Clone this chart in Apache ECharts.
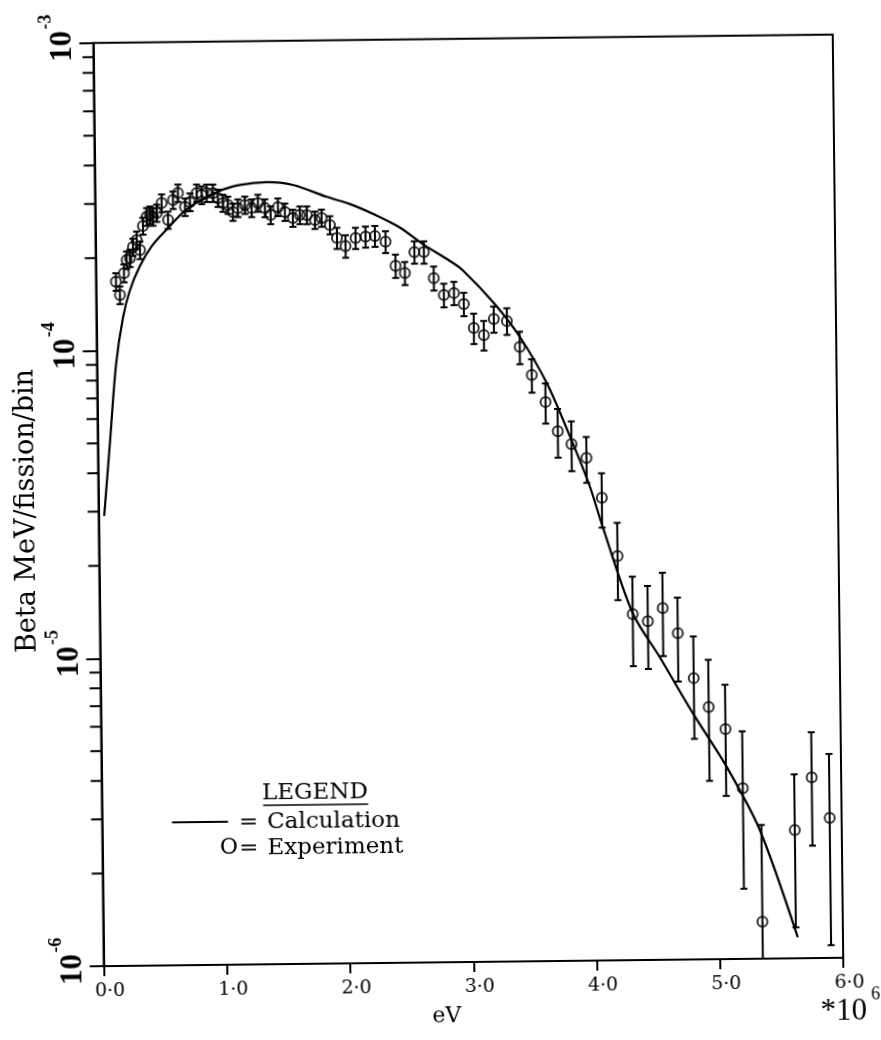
<!DOCTYPE html>
<html>
<head>
<meta charset="utf-8">
<script src="https://cdn.jsdelivr.net/npm/echarts/dist/echarts.min.js"></script>
<style>
html,body{margin:0;padding:0;background:#fff;overflow:hidden;}
#chart{width:881px;height:1040px;transform:rotate(-0.65deg);transform-origin:467.5px 500.5px;}
</style>
</head>
<body>
<div id="chart"></div>
<script>
// ---- data (energy in MeV, i.e. x 10^6 eV) ----
const xTicks = [0, 1, 2, 3, 4, 5, 6];
const yDecades = [1e-6, 1e-5, 1e-4, 1e-3];
const yMinorTicks = [2e-6,3e-6,4e-6,5e-6,6e-6,7e-6,8e-6,9e-6,
                     2e-5,3e-5,4e-5,5e-5,6e-5,7e-5,8e-5,9e-5,
                     2e-4,3e-4,4e-4,5e-4,6e-4,7e-4,8e-4,9e-4];

// Calculation (solid curve)
const calcX = [0.045, 0.10, 0.155, 0.216, 0.275, 0.358, 0.457, 0.581, 0.745, 0.989, 1.177, 1.396, 1.607, 1.881, 2.07, 2.27, 2.47, 2.655, 2.873, 2.977, 3.234, 3.434, 3.648, 3.846, 3.988, 4.089, 4.324, 4.539, 4.802, 5.073, 5.335, 5.633];
const calcY = [2.9e-5, 5.1e-5, 9.0e-5, 1.28e-4, 1.57e-4, 1.878e-4, 2.18e-4, 2.47e-4, 2.866e-4, 3.245e-4, 3.415e-4, 3.48e-4, 3.40e-4, 3.10e-4, 2.93e-4, 2.70e-4, 2.45e-4, 2.16e-4, 1.90e-4, 1.77e-4, 1.37e-4, 1.07e-4, 7.55e-5, 4.89e-5, 3.47e-5, 2.56e-5, 1.342e-5, 9.63e-6, 6.32e-6, 4.21e-6, 2.62e-6, 1.17e-6];

// Experiment (circles with error bars)
const expX = [0.162,0.193,0.228,0.251,0.278,0.303,0.334,0.360,0.386,0.417,
              0.444,0.468,0.499,0.540,0.590,0.632,0.673,0.729,0.770,0.825,
              0.865,0.906,0.957,0.997,1.037,1.077,1.117,1.158,1.215,1.269,
              1.321,1.377,1.423,1.483,1.539,1.603,1.660,1.717,1.782,1.836,
              1.903,1.959,2.028,2.110,2.191,2.267,2.353,2.432,2.507,2.586,
              2.663,2.741,2.821,2.903,2.982,3.061,3.142,3.224,3.330,3.432,
              3.527,3.636,3.733,3.843,3.963,4.084,4.206,4.324,4.446,4.568,
              4.688,4.813,4.932,5.066,5.201,5.348,5.619,5.761,5.903];
const expY = [1.673e-4,1.514e-4,1.784e-4,1.967e-4,1.995e-4,2.166e-4,2.282e-4,2.117e-4,2.533e-4,2.715e-4,
              2.75e-4,2.714e-4,2.788e-4,3.003e-4,2.644e-4,3.068e-4,3.232e-4,2.909e-4,3.018e-4,3.227e-4,
              3.177e-4,3.224e-4,3.222e-4,3.102e-4,2.987e-4,2.942e-4,2.792e-4,2.875e-4,2.938e-4,2.871e-4,
              2.978e-4,2.868e-4,2.72e-4,2.886e-4,2.779e-4,2.655e-4,2.714e-4,2.712e-4,2.611e-4,2.649e-4,
              2.512e-4,2.278e-4,2.143e-4,2.274e-4,2.294e-4,2.304e-4,2.206e-4,1.841e-4,1.742e-4,2.037e-4,
              2.035e-4,1.674e-4,1.473e-4,1.494e-4,1.375e-4,1.148e-4,1.089e-4,1.226e-4,1.207e-4,9.92e-5,
              8.04e-5,6.56e-5,5.27e-5,4.78e-5,4.30e-5,3.19e-5,2.06e-5,1.332e-5,1.262e-5,1.39e-5,
              1.151e-5,8.21e-6,6.6e-6,5.59e-6,3.59e-6,1.32e-6,2.61e-6,3.87e-6,2.85e-6];
const expErr = [1.1e-5,1.0e-5,1.2e-5,1.3e-5,1.3e-5,1.4e-5,1.5e-5,1.4e-5,1.6e-5,1.8e-5,
                1.8e-5,1.8e-5,1.8e-5,2.0e-5,1.7e-5,2.0e-5,2.1e-5,1.9e-5,2.0e-5,2.1e-5,
                2.1e-5,2.1e-5,2.1e-5,2.0e-5,1.9e-5,1.9e-5,1.8e-5,1.9e-5,1.9e-5,1.9e-5,
                1.9e-5,1.9e-5,1.8e-5,1.9e-5,1.8e-5,1.7e-5,1.8e-5,1.8e-5,1.7e-5,1.7e-5,
                1.7e-5,1.8e-5,1.8e-5,1.8e-5,1.8e-5,1.8e-5,1.8e-5,1.6e-5,1.5e-5,1.7e-5,
                1.7e-5,1.5e-5,1.3e-5,1.3e-5,1.2e-5,1.3e-5,1.2e-5,1.2e-5,1.2e-5,1.2e-5,
                1.0e-5,9.8e-6,9.5e-6,8.8e-6,7.3e-6,6.4e-6,5.8e-6,4.3e-6,3.8e-6,4.2e-6,
                3.5e-6,3.0e-6,2.8e-6,2.2e-6,1.9e-6,1.4e-6,1.35e-6,1.55e-6,1.75e-6];

// ---- build series data ----
const X_MIN = xTicks[0], X_MAX = xTicks[xTicks.length - 1];
const Y_MIN = yDecades[0], Y_MAX = yDecades[yDecades.length - 1];
const calcData = calcX.map((x, i) => [x, calcY[i]]);
const expData = expX.map((x, i) => [x, expY[i]]);
const errData = expX.map((x, i) => {
  const lo = expY[i] - expErr[i];
  return [x, lo > Y_MIN ? lo : Y_MIN, expY[i] + expErr[i], lo > Y_MIN ? 1 : 0];
});
const minorData = yMinorTicks.map(v => [X_MIN, v]);
const decadeData = yDecades.map(v => [X_MIN, v]);

const serif = 'DejaVu Serif';

const chart = echarts.init(document.getElementById('chart'), null, {renderer: 'canvas'});
const option = {
  animation: false,
  backgroundColor: '#fff',
  grid: {left: 98.5, top: 38.8, right: 43, bottom: 78, show: true, borderColor: '#000', borderWidth: 2, backgroundColor: 'transparent'},
  xAxis: {
    type: 'value', min: X_MIN, max: X_MAX, interval: 1,
    axisLine: {show: true, onZero: false, lineStyle: {color: '#000', width: 2}},
    axisTick: {show: true, inside: false, length: 10, lineStyle: {color: '#000', width: 2}},
    splitLine: {show: false},
    axisLabel: {
      margin: 16, color: '#000', fontFamily: serif, fontSize: 19, padding: [0, 0, 0, 12],
      formatter: v => v.toFixed(1).replace('.', '\u00B7')
    }
  },
  yAxis: {
    type: 'log', logBase: 10, min: Y_MIN, max: Y_MAX,
    axisLine: {show: true, lineStyle: {color: '#000', width: 2}},
    axisTick: {show: true, inside: false, length: 14, lineStyle: {color: '#000', width: 2}},
    splitLine: {show: false},
    minorTick: {show: false},
    axisLabel: {show: false}
  },
  series: [
    {
      type: 'custom', name: 'minorTicks', coordinateSystem: 'cartesian2d', clip: false, silent: true,
      data: minorData, encode: {x: 0, y: 1},
      renderItem: (params, api) => {
        const p = api.coord([api.value(0), api.value(1)]);
        return {type: 'line', shape: {x1: p[0] - 11, y1: p[1], x2: p[0], y2: p[1]}, style: {stroke: '#000', lineWidth: 2}};
      }
    },
    {
      type: 'custom', name: 'decadeLabels', coordinateSystem: 'cartesian2d', clip: false, silent: true,
      data: decadeData, encode: {x: 0, y: 1},
      renderItem: (params, api) => {
        const v = api.value(1);
        const p = api.coord([api.value(0), v]);
        const e = Math.round(Math.log10(v));
        return {type: 'group', children: [
          {type: 'text', x: p[0] - 15, y: p[1] + 3, rotation: Math.PI / 2,
           style: {text: '10', font: 'bold 31px "Liberation Serif"', fill: '#000', align: 'center', verticalAlign: 'bottom'}},
          {type: 'text', x: p[0] - 38, y: p[1] - 14, rotation: Math.PI / 2,
           style: {text: String(e), font: 'bold 18px "Liberation Serif"', fill: '#000', align: 'left', verticalAlign: 'bottom'}}
        ]};
      }
    },
    {
      type: 'line', name: 'Calculation', data: calcData, showSymbol: false, smooth: 0.3,
      lineStyle: {color: '#000', width: 2.2}, z: 3
    },
    {
      type: 'custom', name: 'errors', coordinateSystem: 'cartesian2d', silent: true,
      data: errData, encode: {x: 0, y: [1, 2]}, z: 4,
      renderItem: (params, api) => {
        const x = api.value(0);
        const a = api.coord([x, api.value(2)]);
        const b = api.coord([x, api.value(1)]);
        const w = 3.5;
        const st = {stroke: '#000', lineWidth: 2};
        const ch = [
          {type: 'line', shape: {x1: a[0], y1: a[1], x2: b[0], y2: b[1]}, style: st},
          {type: 'line', shape: {x1: a[0] - w, y1: a[1], x2: a[0] + w, y2: a[1]}, style: st}
        ];
        if (api.value(3) === 1) ch.push({type: 'line', shape: {x1: b[0] - w, y1: b[1], x2: b[0] + w, y2: b[1]}, style: st});
        return {type: 'group', children: ch};
      }
    },
    {
      type: 'scatter', name: 'Experiment', data: expData, symbol: 'circle', symbolSize: 10, z: 5,
      itemStyle: {color: 'rgba(255,255,255,0)', borderColor: '#000', borderWidth: 2}
    }
  ],
  graphic: [
    {type: 'text', x: 26.9, y: 506, rotation: Math.PI / 2,
     style: {text: 'Beta MeV/fission/bin', font: '27px "DejaVu Serif"', fill: '#000', align: 'center', verticalAlign: 'middle'}},
    {type: 'text', x: 441, y: 1016,
     style: {text: 'eV', font: '22px "DejaVu Serif"', fill: '#000', align: 'center', verticalAlign: 'middle'}},
    {type: 'text', x: 838, y: 1016,
     style: {text: '*10', font: '31px "Liberation Serif"', fill: '#000', align: 'center', verticalAlign: 'middle'}},
    {type: 'text', x: 870, y: 999,
     style: {text: '6', font: '18px "Liberation Serif"', fill: '#000', align: 'center', verticalAlign: 'middle'}},
    {type: 'text', x: 311.7, y: 791.3,
     style: {text: 'LEGEND', font: '23px "DejaVu Serif"', fill: '#000', align: 'center', verticalAlign: 'middle'}},
    {type: 'line', shape: {x1: 259.7, y1: 803, x2: 364.7, y2: 803}, style: {stroke: '#000', lineWidth: 1.5}},
    {type: 'line', shape: {x1: 168.4, y1: 819, x2: 224.4, y2: 819}, style: {stroke: '#000', lineWidth: 2}},
    {type: 'text', x: 245, y: 820,
     style: {text: '=', font: '23px "DejaVu Serif"', fill: '#000', align: 'center', verticalAlign: 'middle'}},
    {type: 'text', x: 263.5, y: 820.5,
     style: {text: 'Calculation', font: '23px "DejaVu Serif"', fill: '#000', align: 'left', verticalAlign: 'middle'}},
    {type: 'text', x: 225, y: 845.5,
     style: {text: 'O', font: '22px "DejaVu Serif"', fill: '#000', align: 'center', verticalAlign: 'middle'}},
    {type: 'text', x: 245, y: 846,
     style: {text: '=', font: '23px "DejaVu Serif"', fill: '#000', align: 'center', verticalAlign: 'middle'}},
    {type: 'text', x: 263.5, y: 846.5,
     style: {text: 'Experiment', font: '23px "DejaVu Serif"', fill: '#000', align: 'left', verticalAlign: 'middle'}}
  ]
};
chart.setOption(option);
</script>
</body>
</html>
